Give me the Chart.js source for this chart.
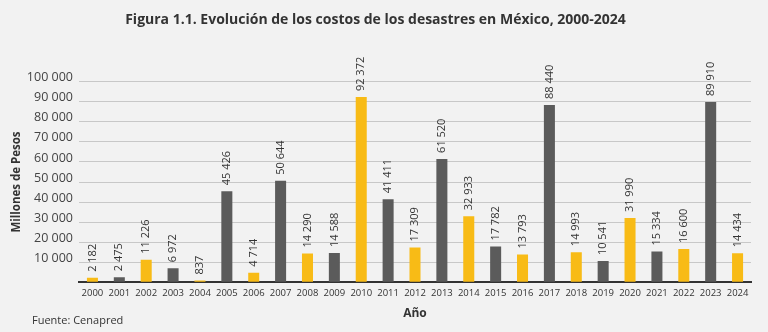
<!DOCTYPE html>
<html>
<head>
<meta charset="utf-8">
<script src="https://cdn.jsdelivr.net/npm/chart.js@4/dist/chart.umd.min.js"></script>
<style>
  html, body { margin: 0; padding: 0; background: #f2f2f2; }
  #wrap { width: 768px; height: 332px; }
</style>
</head>
<body>
<div id="wrap"><canvas id="costos"></canvas></div>
<script>
// Costos de los desastres en México (millones de pesos)
const years = ['2000', '2001', '2002', '2003', '2004', '2005', '2006', '2007', '2008', '2009',
  '2010', '2011', '2012', '2013', '2014', '2015', '2016', '2017', '2018', '2019',
  '2020', '2021', '2022', '2023', '2024'];
const costos = [2182, 2475, 11226, 6972, 837, 45426, 4714, 50644, 14290, 14588,
  92372, 41411, 17309, 61520, 32933, 17782, 13793, 88440, 14993, 10541,
  31990, 15334, 16600, 89910, 14434];
const yTicks = [10000, 20000, 30000, 40000, 50000, 60000, 70000, 80000, 90000, 100000];

const AMARILLO = '#f8bb16';
const GRIS = '#5b5b5b';
const TXT = '#333';
const FONT = "'Open Sans', 'Noto Sans', sans-serif";

const fmt = v => String(v).replace(/\B(?=(\d{3})+(?!\d))/g, ' ');

// etiquetas verticales encima de cada barra
const valueLabels = {
  id: 'valueLabels',
  afterDatasetsDraw(chart) {
    const { ctx } = chart;
    const meta = chart.getDatasetMeta(0);
    ctx.save();
    ctx.font = `11px ${FONT}`;
    ctx.fillStyle = TXT;
    ctx.textAlign = 'left';
    ctx.textBaseline = 'middle';
    meta.data.forEach((bar, i) => {
      ctx.save();
      ctx.translate(bar.x, bar.y - 6);
      ctx.rotate(-Math.PI / 2);
      ctx.fillText(fmt(costos[i]), 0, 0);
      ctx.restore();
    });
    ctx.restore();
  },
};

// nota de fuente
const fuente = {
  id: 'fuente',
  afterDraw(chart) {
    const { ctx } = chart;
    ctx.save();
    ctx.font = `11px ${FONT}`;
    ctx.fillStyle = TXT;
    ctx.textAlign = 'left';
    ctx.textBaseline = 'middle';
    ctx.fillText('Fuente: Cenapred', 32, 321);
    ctx.restore();
  },
};

new Chart(document.getElementById('costos'), {
  type: 'bar',
  data: {
    labels: years,
    datasets: [{
      data: costos,
      backgroundColor: costos.map((v, i) => i % 2 === 0 ? AMARILLO : GRIS),
      barPercentage: 0.41,
      categoryPercentage: 1,
    }],
  },
  options: {
    responsive: true, maintainAspectRatio: false, animation: false,
    layout: { padding: { left: 0, right: 17, top: 0, bottom: 9 } },
    plugins: {
      legend: { display: false },
      tooltip: { enabled: false },
      title: {
        display: true,
        text: 'Figura 1.1. Evolución de los costos de los desastres en México, 2000-2024',
        color: TXT,
        font: { family: FONT, size: 14, weight: 'bold' },
        padding: { top: 12, bottom: 53 },
      },
    },
    scales: {
      x: {
        grid: { display: false, drawTicks: false },
        border: { display: true, color: '#333', width: 2 },
        ticks: { color: TXT, font: { family: FONT, size: 9.5 }, padding: 5, maxRotation: 0, autoSkip: false },
        title: {
          display: true, text: 'Año', color: TXT,
          font: { family: FONT, size: 12, weight: 'bold' },
          padding: { top: 3, bottom: 2 },
        },
      },
      y: {
        min: 0, max: 100000,
        afterFit: s => { s.width = 79; },
        afterBuildTicks: s => { s.ticks = [0, ...yTicks].map(v => ({ value: v })); },
        grid: { color: '#c8c8c8', drawTicks: false },
        border: { display: false },
        ticks: {
          color: '#444', font: { family: FONT, size: 12.5 }, padding: 6, labelOffset: -4,
          callback: v => v === 0 ? '' : fmt(v),
        },
        title: {
          display: true, text: 'Millones de Pesos', color: TXT,
          font: { family: FONT, size: 11.5, weight: 'bold' },
          padding: { top: 10, bottom: 0 },
        },
      },
    },
  },
  plugins: [valueLabels, fuente],
});
</script>
</body>
</html>
